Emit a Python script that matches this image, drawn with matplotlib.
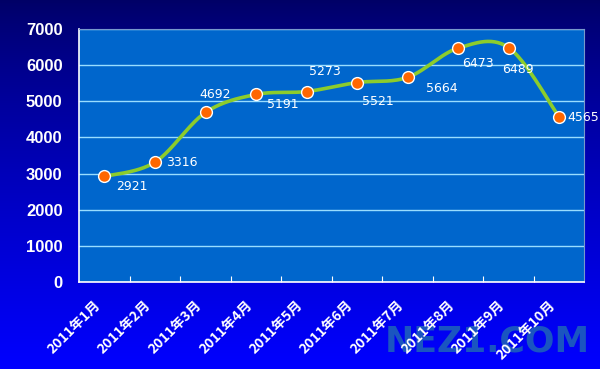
import numpy as np
import matplotlib
matplotlib.use("Agg")
import matplotlib.pyplot as plt
from matplotlib.transforms import blended_transform_factory, ScaledTranslation

plt.rcParams['font.family'] = ['Noto Sans CJK SC', 'DejaVu Sans']

# data
months = ["2011年1月", "2011年2月", "2011年3月", "2011年4月", "2011年5月",
          "2011年6月", "2011年7月", "2011年8月", "2011年9月", "2011年10月"]
values = [2921, 3316, 4692, 5191, 5273, 5521, 5664, 6473, 6489, 4565]
# label offsets (pixels) for each value label
label_dx = [12, 11, -6, 11, 2, 5, 18, 4, -6, 8]
label_dy = [-10, 0, 18, -10, 20, -19, -11, -15, -22, 0]

fig = plt.figure(figsize=(6, 3.69), dpi=100)

# background gradient
bg = fig.add_axes([0, 0, 1, 1])
grad = np.linspace(0, 1, 256).reshape(-1, 1)
top = np.array([0.0, 0.0, 0.40])
bot = np.array([0.0, 0.0, 1.0])
img = top + (bot - top) * grad[:, :, None] ** 0.8
bg.imshow(img, aspect='auto', extent=[0, 1, 0, 1])
bg.axis('off')
bg.text(0.812, 0.075, "NEZ1.COM", color="#1a55c0", fontsize=25,
        fontweight='bold', ha='center', va='center', family='DejaVu Sans')

ax = fig.add_axes([0.132, 0.236, 0.842, 0.685])
ax.set_facecolor("#0066cc")

x = np.arange(len(values))

# smooth curve through points (Catmull-Rom)
pts = np.column_stack([x, values]).astype(float)
ext = np.vstack([pts[0], pts, pts[-1]])
curve = []
for i in range(1, len(ext) - 2):
    p0, p1, p2, p3 = ext[i - 1], ext[i], ext[i + 1], ext[i + 2]
    t = np.linspace(0, 1, 30)[:, None]
    c = 0.5 * ((2 * p1) + (-p0 + p2) * t + (2 * p0 - 5 * p1 + 4 * p2 - p3) * t ** 2
               + (-p0 + 3 * p1 - 3 * p2 + p3) * t ** 3)
    curve.append(c)
curve = np.vstack(curve)
ax.plot(curve[:, 0], curve[:, 1], color="#8ccc2c", lw=2.6, zorder=3)
ax.plot(x, values, 'o', ms=8.5, mfc="#ff6600", mec="white", mew=1.0, zorder=4)

for xi, v, dx, dy in zip(x, values, label_dx, label_dy):
    ax.annotate(str(v), (xi, v), xytext=(dx, dy), textcoords='offset pixels',
                color='white', fontsize=9, ha='left', va='center',
                family='DejaVu Sans')

ax.set_xlim(-0.5, len(values) - 0.5)
ax.set_ylim(0, 7000)
ax.set_yticks(range(0, 7001, 1000))
ax.yaxis.grid(True, color="#99ddff", lw=1)
ax.set_axisbelow(True)
ax.tick_params(axis='y', length=0, colors='white', labelsize=12, pad=12)
for lab in ax.get_yticklabels():
    lab.set_fontweight('bold')
    lab.set_family('Liberation Sans')

ax.set_xticks(np.arange(0.5, len(values) - 0.5, 1))
ax.set_xticklabels([])
ax.tick_params(axis='x', direction='in', length=4, color='white')

# rotated month labels
trans = blended_transform_factory(ax.transData, ax.transAxes) + \
    ScaledTranslation(-11 / 100, -16 / 100, fig.dpi_scale_trans)
for xi, m in zip(x, months):
    ax.text(xi, 0, m, transform=trans, rotation=45, ha='right', va='top',
            rotation_mode='anchor', color='white', fontsize=10,
            fontweight='bold', clip_on=False)

for side in ['top', 'right']:
    ax.spines[side].set_color("#7799cc")
for side in ['left', 'bottom']:
    ax.spines[side].set_color("white")
    ax.spines[side].set_linewidth(1.2)

fig.savefig("out.png", dpi=100)
